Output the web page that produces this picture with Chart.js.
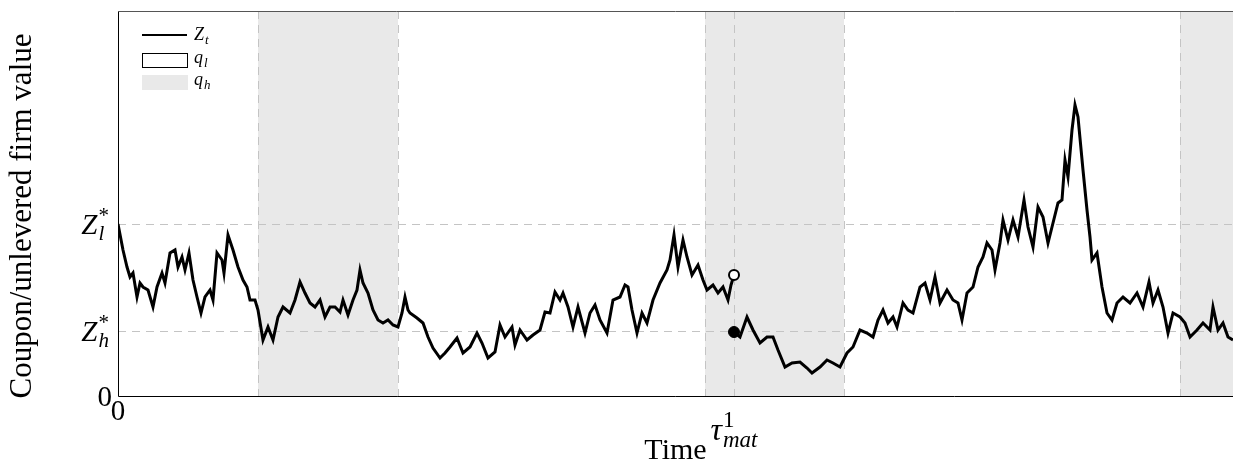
<!DOCTYPE html>
<html>
<head>
<meta charset="utf-8">
<script src="https://cdn.jsdelivr.net/npm/chart.js@4/dist/chart.umd.min.js"></script>
<style>
html,body{margin:0;padding:0;background:#fff;}
#wrap{width:1233px;height:466px;position:relative;}
</style>
</head>
<body>
<div id="wrap"><canvas id="c" width="1233" height="466"></canvas></div>
<script>
// ---- data (time axis: arbitrary units, value axis: arbitrary units) ----
const timeBefore = [0.00,0.05,0.09,0.12,0.15,0.19,0.22,0.25,0.30,0.35,0.39,0.44,0.47,0.52,0.57,0.60,0.64,0.67,0.71,0.75,0.79,0.83,0.87,0.92,0.95,0.99,1.04,1.06,1.10,1.15,1.20,1.25,1.29,1.32,1.37,1.40,1.45,1.50,1.55,1.60,1.65,1.72,1.77,1.82,1.87,1.92,1.97,2.02,2.07,2.12,2.17,2.22,2.25,2.30,2.35,2.39,2.42,2.45,2.50,2.55,2.60,2.65,2.70,2.75,2.80,2.84,2.87,2.90,2.92,2.99,3.05,3.10,3.15,3.22,3.27,3.32,3.39,3.45,3.52,3.59,3.64,3.70,3.77,3.82,3.87,3.94,3.97,4.02,4.09,4.15,4.22,4.27,4.32,4.37,4.42,4.45,4.50,4.55,4.60,4.67,4.72,4.77,4.82,4.89,4.95,5.02,5.07,5.10,5.14,5.19,5.24,5.29,5.35,5.42,5.49,5.52,5.56,5.60,5.65,5.69,5.74,5.80,5.85,5.89,5.95,6.00,6.05,6.10,6.13,6.16];
const valueBefore = [1.72,1.46,1.29,1.19,1.23,0.99,1.13,1.09,1.06,0.89,1.09,1.23,1.13,1.43,1.46,1.29,1.39,1.26,1.43,1.16,0.99,0.83,0.99,1.06,0.96,1.43,1.36,1.23,1.61,1.46,1.29,1.16,1.09,0.96,0.96,0.86,0.56,0.69,0.56,0.79,0.89,0.83,0.96,1.14,1.03,0.93,0.89,0.96,0.79,0.89,0.89,0.84,0.96,0.81,0.96,1.06,1.26,1.13,1.03,0.86,0.76,0.73,0.76,0.71,0.69,0.83,0.99,0.86,0.83,0.78,0.73,0.59,0.48,0.38,0.43,0.49,0.58,0.43,0.49,0.63,0.53,0.38,0.44,0.71,0.59,0.69,0.51,0.66,0.56,0.61,0.66,0.84,0.83,1.04,0.96,1.03,0.89,0.69,0.89,0.63,0.83,0.91,0.76,0.63,0.96,0.99,1.11,1.09,0.86,0.63,0.83,0.73,0.96,1.13,1.26,1.36,1.61,1.29,1.56,1.39,1.21,1.31,1.16,1.06,1.11,1.03,1.09,0.96,1.11,1.21];
const timeAfter = [6.16,6.22,6.29,6.35,6.42,6.49,6.55,6.60,6.67,6.74,6.82,6.89,6.94,7.02,7.09,7.15,7.22,7.29,7.35,7.42,7.49,7.55,7.60,7.65,7.70,7.75,7.79,7.85,7.90,7.95,8.02,8.07,8.12,8.17,8.22,8.29,8.35,8.40,8.44,8.49,8.55,8.60,8.65,8.69,8.74,8.77,8.82,8.85,8.90,8.95,9.00,9.06,9.10,9.15,9.20,9.25,9.30,9.35,9.40,9.44,9.47,9.50,9.54,9.57,9.60,9.65,9.69,9.72,9.74,9.79,9.84,9.89,9.94,9.99,10.05,10.12,10.19,10.25,10.31,10.35,10.40,10.45,10.50,10.55,10.62,10.67,10.72,10.79,10.85,10.92,10.95,11.00,11.05,11.10,11.15];
const valueAfter = [0.64,0.59,0.79,0.66,0.53,0.59,0.59,0.46,0.29,0.33,0.34,0.28,0.23,0.29,0.36,0.33,0.29,0.43,0.49,0.66,0.63,0.59,0.76,0.86,0.73,0.79,0.69,0.93,0.86,0.83,1.09,1.13,0.96,1.19,0.93,1.06,0.96,0.93,0.76,1.03,1.09,1.29,1.39,1.53,1.46,1.26,1.53,1.76,1.56,1.76,1.59,1.96,1.69,1.49,1.89,1.79,1.53,1.73,1.93,1.96,2.36,2.19,2.66,2.91,2.79,2.26,1.86,1.59,1.36,1.43,1.09,0.83,0.76,0.93,0.99,0.93,1.03,0.89,1.14,0.93,1.06,0.89,0.63,0.83,0.79,0.73,0.59,0.66,0.73,0.66,0.89,0.66,0.73,0.59,0.56];
const qhStart = [1.40, 5.87, 10.62];
const qhEnd   = [2.80, 7.26, 11.15];
const tauMat = 6.16;
const jumpFrom = 1.21;
const jumpTo = 0.64;
const zH = 0.65;
const zL = 1.72;
const xMax = 11.15;
const yMax = 3.85;
const yTickValues = [0, zH, zL];
const yTickLabels = [['0','',''], ['Z','h','*'], ['Z','l','*']];   // [base, subscript, superscript]
const xTickValues = [0, tauMat];
const xTickLabels = [['0','',''], ['τ','mat','1']];
const legendLabels = [['Z','t'], ['q','l'], ['q','h']];
const xTitle = 'Time';
const yTitle = 'Coupon/unlevered firm value';

const SERIF = '"Liberation Serif", "DejaVu Serif", serif';
const SHADE = '#e9e9e9';
const DASH = '#c4c4c4';

function drawMath(ctx, x, y, parts, size, align, italicBase) {
  const [base, sub, sup] = parts;
  const baseFont = (italicBase ? 'italic ' : '') + size + 'px ' + SERIF;
  const smallSize = Math.round(size * 0.72);
  const subFont = 'italic ' + smallSize + 'px ' + SERIF;
  const supFont = (/^[0-9*]$/.test(sup || '') ? '' : 'italic ') + smallSize + 'px ' + SERIF;
  ctx.font = baseFont;
  const wb = ctx.measureText(base).width;
  ctx.font = subFont;
  const ws = sub ? ctx.measureText(sub).width : 0;
  ctx.font = supFont;
  const wp = sup ? ctx.measureText(sup).width : 0;
  const total = wb + Math.max(ws, wp) + (sub || sup ? 1 : 0);
  let x0 = x;
  if (align === 'right') x0 = x - total;
  else if (align === 'center') x0 = x - total / 2;
  ctx.textBaseline = 'alphabetic';
  ctx.textAlign = 'left';
  ctx.fillStyle = '#000';
  ctx.font = baseFont;
  ctx.fillText(base, x0, y);
  if (sub) { ctx.font = subFont; ctx.fillText(sub, x0 + wb + 1, y + size * 0.22); }
  if (sup) { ctx.font = supFont; ctx.fillText(sup, x0 + wb + 1, y - size * 0.42); }
}

const decor = {
  id: 'decor',
  beforeDatasetsDraw(chart) {
    const {ctx, chartArea: a, scales: {x, y}} = chart;
    ctx.save();
    ctx.beginPath(); ctx.rect(a.left, a.top, a.right - a.left, a.bottom - a.top); ctx.clip();
    ctx.fillStyle = SHADE;
    for (let i = 0; i < qhStart.length; i++) {
      const x0 = x.getPixelForValue(qhStart[i]);
      const x1 = x.getPixelForValue(qhEnd[i]);
      ctx.fillRect(x0, a.top, x1 - x0, a.bottom - a.top);
    }
    ctx.strokeStyle = DASH; ctx.lineWidth = 1; ctx.setLineDash([8, 6]);
    for (const v of [zH, zL]) {
      const py = Math.round(y.getPixelForValue(v)) + 0.5;
      ctx.beginPath(); ctx.moveTo(a.left, py); ctx.lineTo(a.right, py); ctx.stroke();
    }
    const vlines = [];
    qhStart.forEach(v => vlines.push(v)); qhEnd.forEach(v => vlines.push(v)); vlines.push(tauMat);
    for (const v of vlines) {
      if (v <= 0 || v >= xMax) continue;
      const px = Math.round(x.getPixelForValue(v)) + 0.5;
      ctx.beginPath(); ctx.moveTo(px, a.top); ctx.lineTo(px, a.bottom); ctx.stroke();
    }
    ctx.restore();
  },
  afterDraw(chart) {
    const {ctx, chartArea: a, scales: {x, y}} = chart;
    ctx.save();
    // axes frame
    ctx.setLineDash([]);
    ctx.strokeStyle = '#000'; ctx.lineWidth = 1;
    ctx.beginPath(); ctx.moveTo(a.left + 0.5, a.top); ctx.lineTo(a.left + 0.5, a.bottom + 0.5); ctx.lineTo(a.right, a.bottom + 0.5); ctx.stroke();
    ctx.strokeStyle = '#555';
    ctx.beginPath(); ctx.moveTo(a.left, a.top + 0.5); ctx.lineTo(a.right, a.top + 0.5); ctx.stroke();
    // y tick labels
    yTickValues.forEach((v, i) => {
      const py = y.getPixelForValue(v);
      const lab = yTickLabels[i];
      const isNum = !lab[1] && !lab[2];
      drawMath(ctx, isNum ? a.left - 6 : a.left - 9, py + 10, lab, 29, 'right', !isNum);
    });
    // x tick labels
    xTickValues.forEach((v, i) => {
      const px = x.getPixelForValue(v);
      const lab = xTickLabels[i];
      const isNum = !lab[1] && !lab[2];
      drawMath(ctx, px, isNum ? 420 : 440, lab, isNum ? 29 : 32, 'center', !isNum);
    });
    // y axis title
    ctx.save();
    ctx.translate(23, 216);
    ctx.rotate(-Math.PI / 2);
    ctx.font = '31px ' + SERIF;
    ctx.fillStyle = '#000'; ctx.textAlign = 'center'; ctx.textBaseline = 'middle';
    ctx.fillText(yTitle, 0, 0);
    ctx.restore();
    // legend
    const lx = 142, lw = 45;
    ctx.strokeStyle = '#000'; ctx.lineWidth = 2;
    ctx.beginPath(); ctx.moveTo(lx, 35); ctx.lineTo(lx + lw, 35); ctx.stroke();
    ctx.lineWidth = 1;
    ctx.fillStyle = '#fff'; ctx.fillRect(lx + 0.5, 53.5, lw, 14); ctx.strokeStyle = '#000'; ctx.strokeRect(lx + 0.5, 53.5, lw, 14);
    ctx.fillStyle = SHADE; ctx.fillRect(lx, 75, lw + 1, 15);
    const ly = [40, 63, 85];
    legendLabels.forEach((lab, i) => drawMath(ctx, 194, ly[i], [lab[0], lab[1], ''], 18, 'left', true));
    ctx.restore();
  }
};

const pts = (ts, vs) => ts.map((t, i) => ({x: t, y: vs[i]}));

new Chart(document.getElementById('c'), {
  type: 'line',
  data: {
    datasets: [
      {label: 'Z_t', data: pts(timeBefore, valueBefore), borderColor: '#000', borderWidth: 3, pointRadius: 0, tension: 0, fill: false, order: 3},
      {label: 'Z_t after', data: pts(timeAfter, valueAfter), borderColor: '#000', borderWidth: 3, pointRadius: 0, tension: 0, fill: false, order: 3},
      {label: 'pre-jump', type: 'scatter', data: [{x: tauMat, y: jumpFrom}], pointRadius: 5, pointBackgroundColor: '#fff', pointBorderColor: '#000', pointBorderWidth: 2, order: 1},
      {label: 'post-jump', type: 'scatter', data: [{x: tauMat, y: jumpTo}], pointRadius: 5.5, pointBackgroundColor: '#000', pointBorderColor: '#000', pointBorderWidth: 1, order: 1}
    ]
  },
  options: {
    responsive: false,
    animation: false,
    devicePixelRatio: 1,
    layout: {autoPadding: false, padding: {top: 11, right: 0, left: 0, bottom: 0}},
    plugins: {legend: {display: false}, tooltip: {enabled: false}},
    scales: {
      x: {
        type: 'linear', min: 0, max: xMax,
        grid: {display: false}, border: {display: false},
        ticks: {display: false},
        title: {display: true, text: xTitle, color: '#000', font: {family: SERIF, size: 30, lineHeight: 1}, padding: {top: 0, bottom: 0}},
        afterFit(s) { s.height = 70; }
      },
      y: {
        type: 'linear', min: 0, max: yMax,
        grid: {display: false}, border: {display: false},
        ticks: {display: false},
        title: {display: false},
        afterFit(s) { s.width = 118; }
      }
    }
  },
  plugins: [decor]
});
</script>
</body>
</html>
